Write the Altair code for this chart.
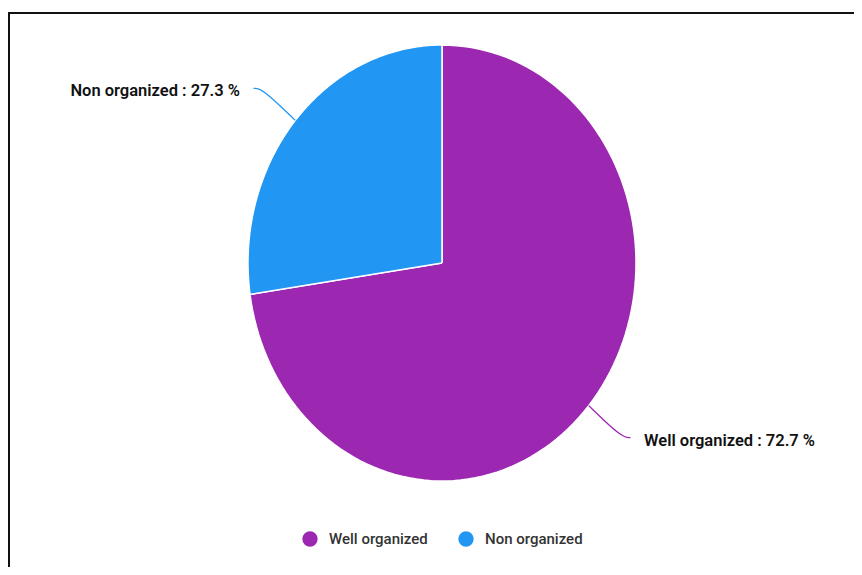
import altair as alt
import pandas as pd

categories = ["Well organized", "Non organized"]
values = [72.7, 27.3]
colors = ["#9C27B0", "#2196F3"]
slice_order = [0, 1]

df = pd.DataFrame({"category": categories, "value": values, "order": slice_order})

xs = alt.Scale(domain=[-1, 1], range=[240, 628])
ys = alt.Scale(domain=[-1, 1], range=[473, 37])

base = (
    alt.Chart(df)
    .transform_joinaggregate(total="sum(value)")
    .transform_window(cum="sum(value)", sort=[alt.SortField("order")], frame=[None, 0])
    .transform_calculate(
        a0="2*PI*(datum.cum - datum.value)/datum.total",
        a1="2*PI*datum.cum/datum.total",
    )
    .transform_calculate(amid="(datum.a0 + datum.a1)/2")
)

N = 120
pie = (
    base.transform_calculate(pts=f"sequence(0, {N + 3})")
    .transform_flatten(["pts"])
    .transform_calculate(
        ang=f"datum.a0 + (datum.a1 - datum.a0) * (datum.pts - 1) / {N}",
    )
    .transform_calculate(
        px=f"(datum.pts == 0 || datum.pts == {N + 2}) ? 0 : sin(datum.ang)",
        py=f"(datum.pts == 0 || datum.pts == {N + 2}) ? 0 : cos(datum.ang)",
    )
    .mark_line(stroke="white", strokeWidth=1.5, interpolate="linear")
    .encode(
        x=alt.X("px:Q", scale=xs, axis=None),
        y=alt.Y("py:Q", scale=ys, axis=None),
        order=alt.Order("pts:Q"),
        detail="category:N",
        fill=alt.Fill(
            "category:N",
            scale=alt.Scale(domain=categories, range=colors),
            legend=alt.Legend(
                orient="none",
                legendX=294,
                legendY=523,
                direction="horizontal",
                title=None,
                symbolType="circle",
                symbolSize=235,
                symbolStrokeWidth=0,
                labelFont="Roboto",
                labelFontSize=15,
                labelFontWeight=500,
                labelColor="#333333",
                labelOffset=11,
                columnPadding=30,
                padding=0,
            ),
        ),
    )
)

R = 1.225
TAIL = 0.045
leader = (
    base.transform_calculate(pts="sequence(0, 3)")
    .transform_flatten(["pts"])
    .transform_calculate(side="sin(datum.amid) >= 0 ? 1 : -1")
    .transform_calculate(
        lx=f"datum.pts == 0 ? sin(datum.amid) : (datum.pts == 1 ? {R}*sin(datum.amid) : {R}*sin(datum.amid) + {TAIL}*datum.side)",
        ly=f"datum.pts == 0 ? cos(datum.amid) : {R}*cos(datum.amid)",
    )
    .mark_line(strokeWidth=1.3, interpolate="basis")
    .encode(
        x=alt.X("lx:Q", scale=xs, axis=None),
        y=alt.Y("ly:Q", scale=ys, axis=None),
        order=alt.Order("pts:Q"),
        detail="category:N",
        stroke=alt.Stroke(
            "category:N",
            scale=alt.Scale(domain=categories, range=colors),
            legend=None,
        ),
    )
)

lab = base.transform_calculate(
    side="sin(datum.amid) >= 0 ? 1 : -1",
    label="datum.category + ' : ' + format(datum.value, '.1f') + ' %'",
).transform_calculate(
    tx=f"{R}*sin(datum.amid) + {TAIL + 0.07}*datum.side",
    ty=f"{R}*cos(datum.amid)",
)

text_style = dict(font="Roboto", fontSize=16.5, fontWeight=600, color="#111111", baseline="middle", dy=3)

lab_right = (
    lab.transform_filter("datum.side > 0")
    .mark_text(align="left", **text_style)
    .encode(x=alt.X("tx:Q", scale=xs, axis=None), y=alt.Y("ty:Q", scale=ys, axis=None), text="label:N")
)
lab_left = (
    lab.transform_filter("datum.side < 0")
    .mark_text(align="right", **text_style)
    .encode(x=alt.X("tx:Q", scale=xs, axis=None), y=alt.Y("ty:Q", scale=ys, axis=None), text="label:N")
)

frame_df = pd.DataFrame({"k": [0]})
top_rule = alt.Chart(frame_df).mark_rule(color="#111111", strokeWidth=2).encode(
    x=alt.value(0), x2=alt.value(846), y=alt.value(5)
)
left_rule = alt.Chart(frame_df).mark_rule(color="#111111", strokeWidth=2).encode(
    x=alt.value(1), y=alt.value(4), y2=alt.value(559)
)

chart = (
    alt.layer(pie, leader, lab_right, lab_left, top_rule, left_rule)
    .properties(width=846, height=559, padding=0, autosize=alt.AutoSizeParams(type="none"))
    .configure_view(stroke=None)
)

chart.save("out.html", embed_options={"renderer": "svg", "actions": False})
